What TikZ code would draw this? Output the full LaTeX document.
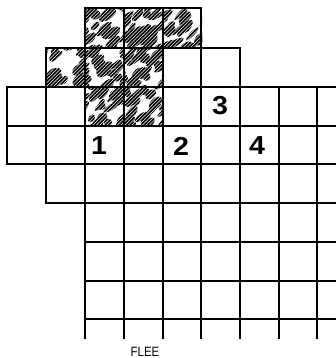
\documentclass[tikz,border=0pt]{standalone}
\usepackage{fontspec}
\setsansfont{Liberation Sans}
\begin{document}
\begin{tikzpicture}[x=1pt,y=-1pt,
  gridline/.style={line width=2.6pt,line cap=rect},
  numlabel/.style={font=\sffamily\bfseries\fontsize{26}{26}\selectfont,inner sep=0pt,xscale=1.1},
  caption/.style={font=\sffamily\fontsize{13.5}{14}\selectfont,inner sep=0pt,xscale=0.85}]
\useasboundingbox (0,0) rectangle (336,358);
\newcommand\leopardcell[2]{%
  \begin{scope}
    \clip (#1,#2) rectangle ++(39,39);
    \foreach \k in {1,...,30}{%
      \pgfmathsetmacro\cx{#1-4+47*rnd}%
      \pgfmathsetmacro\cy{#2-4+47*rnd}%
      \pgfmathsetmacro\ra{4+6*rnd}%
      \pgfmathsetmacro\rb{2+3*rnd}%
      \pgfmathsetmacro\an{30+25*rnd}%
      \fill[black,rotate around={\an:(\cx,\cy)}] (\cx,\cy) ellipse [x radius=\ra, y radius=\rb];
    }
    \foreach \t in {-45,-41.5,...,42} \draw[white,line width=0.4pt] (#1+\t,#2+42) -- ++(42,-42);
  \end{scope}}
\pgfmathsetseed{11}
% shaded cells
\leopardcell{85}{8}
\leopardcell{124}{8}
\leopardcell{163}{8}
\leopardcell{46}{48}
\leopardcell{85}{48}
\leopardcell{124}{48}
\leopardcell{85}{87}
\leopardcell{124}{87}
% horizontal lines
\draw[gridline] (85,8) -- (201,8);
\draw[gridline] (46,48) -- (240,48);
\draw[gridline] (7,87) -- (336,87);
\draw[gridline] (7,126) -- (336,126);
\draw[gridline] (7,164) -- (336,164);
\draw[gridline] (46,203) -- (336,203);
\foreach \y in {242,281,319} \draw[gridline] (85,\y) -- (336,\y);
% vertical lines
\draw[gridline] (7,87) -- (7,164);
\draw[gridline] (46,48) -- (46,203);
\foreach \x in {85,124,163,201} \draw[gridline] (\x,8) -- (\x,338);
\draw[gridline] (240,48) -- (240,338);
\foreach \x in {279,317} \draw[gridline] (\x,87) -- (\x,338);
% numbers
\node[numlabel] (n3) at (220,106) {3};
\node[numlabel] (n1) at (99,146) {1};
\node[numlabel] (n2) at (181,146) {2};
\node[numlabel] (n4) at (257,146) {4};
\node[caption] (flee) at (145,352) {FLEE};
\end{tikzpicture}
\end{document}
